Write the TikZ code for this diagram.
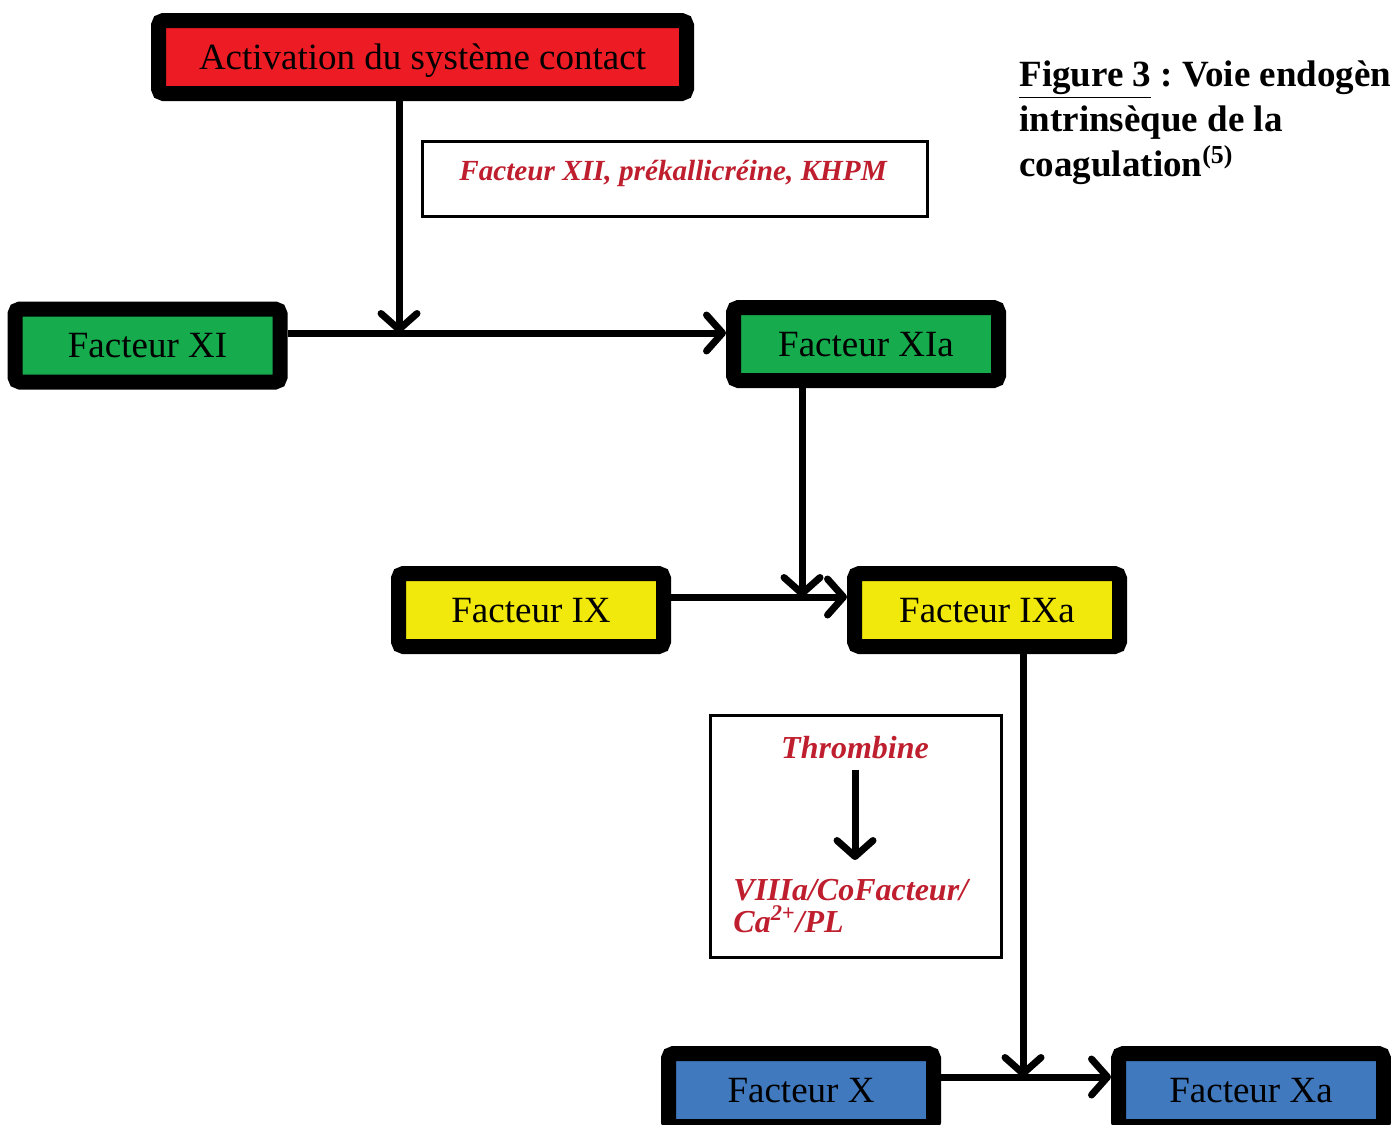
\documentclass[tikz,border=0pt]{standalone}
\usepackage{fontspec}
\setmainfont{Liberation Serif}
\usetikzlibrary{positioning, calc, arrows.meta}
\definecolor{cfRed}{RGB}{237,28,36}
\definecolor{cfGreen}{RGB}{22,171,76}
\definecolor{cfYellow}{RGB}{242,233,12}
\definecolor{cfBlue}{RGB}{64,121,190}
\definecolor{cfText}{RGB}{190,30,45}
\frenchspacing

\begin{document}
\begin{tikzpicture}[
      x=0.5pt, y=-0.5pt,
      factor/.style={draw=black, line width=7.5pt, rounded corners=2.5pt, inner sep=0pt, text depth=0pt, minimum width=132.5pt, minimum height=36.5pt, font=\fontsize{18.5}{22}\selectfont},
      note/.style={draw=black, line width=1.5pt, inner sep=0pt},
      notetext/.style={text=cfText, font=\fontsize{16}{16}\selectfont\bfseries\itshape},
      arr/.style={line width=3.5pt, -{Straight Barb[round, length=8pt, width=18pt]}}
    ]
      \clip (0,0) rectangle (1391,1124);

      \node[factor, fill=cfRed, minimum width=264pt] (act) at (422.5,57) {Activation du système contact};
      \node[factor, fill=cfGreen] (f11) at (147.5,345.5) {Facteur XI};
      \node[factor, fill=cfGreen] (f11a) at (866,344) {Facteur XIa};
      \node[factor, fill=cfYellow] (f9) at (531,610) {Facteur IX};
      \node[factor, fill=cfYellow] (f9a) at (987,610) {Facteur IXa};
      \node[factor, fill=cfBlue] (f10) at (801,1090) {Facteur X};
      \node[factor, fill=cfBlue] (f10a) at (1251,1090) {Facteur Xa};

      \node[note, minimum width=252.5pt, minimum height=37.5pt] (xii) at (675,179) {};
      \node[notetext, font=\fontsize{14.6}{14}\selectfont\bfseries\itshape] (xiitxt) at (673,173) {Facteur XII, prékallicréine, KHPM};

      \node[note, minimum width=145.5pt, minimum height=121pt] (thr) at (856,836.5) {};
      \node[notetext] (thrtxt) at (855,748) {Thrombine};
      \node[notetext, anchor=north west, align=left, inner sep=0pt] (cof) at (733,879) {VIIIa/CoFacteur/\\Ca\smash{\textsuperscript{2+}}/PL};
      \draw[arr] (thrtxt.south) ++(0,4) coordinate (t1) (t1) -- (855,860);

      \node[anchor=north west, align=left, inner sep=0pt, font=\fontsize{18.5}{22.5}\selectfont\bfseries] (title) at (1019,60)
        {\underline{Figure 3} : Voie endogène\\intrinsèque de la\\coagulation\textsuperscript{(5)}};

      \coordinate (j1) at (399,333);
      \coordinate (j2) at (802,597);
      \coordinate (j3) at (1023,1077);

      \draw[arr] (act.south -| j1) -- (j1);
      \draw[arr] (f11.east |- j1) -- (f11a.west |- j1);
      \draw[arr] (f11a.south -| j2) -- (j2);
      \draw[arr] (f9.east |- j2) -- (f9a.west |- j2);
      \draw[arr] (f9a.south -| j3) -- (j3);
      \draw[arr] (f10.east |- j3) -- (f10a.west |- j3);
    \end{tikzpicture}
\end{document}
